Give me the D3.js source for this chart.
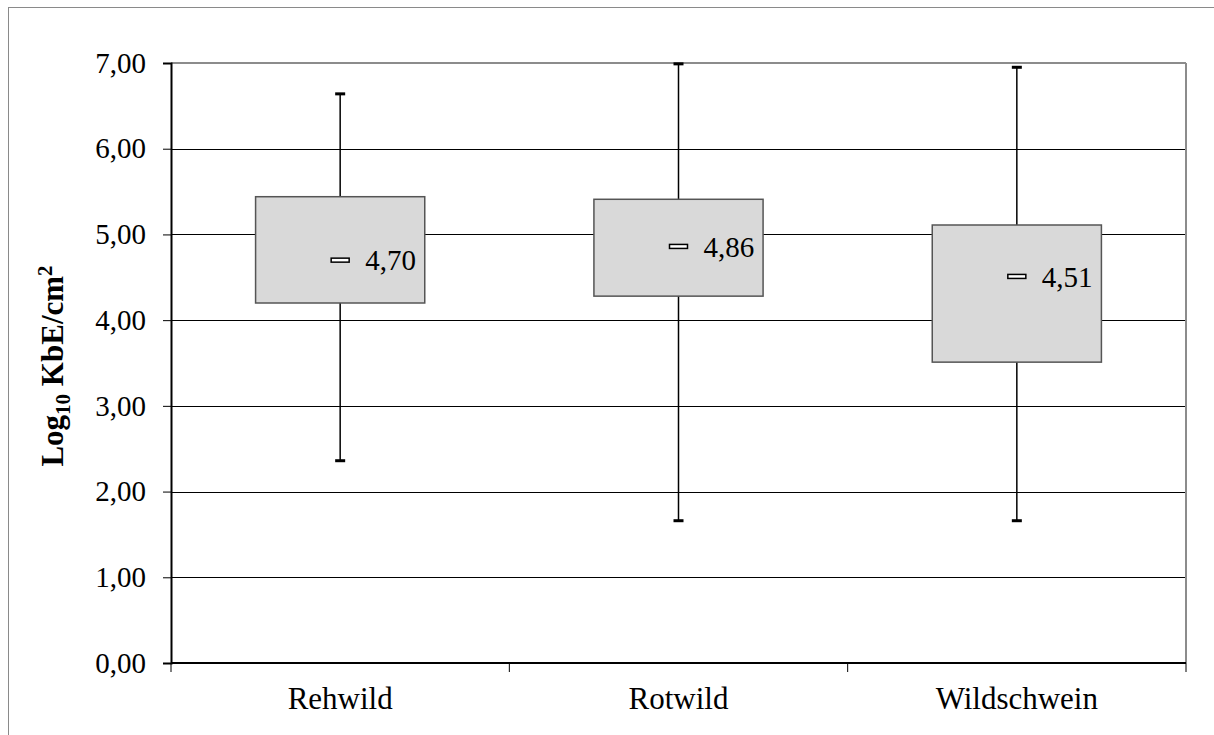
<!DOCTYPE html>
<html>
<head>
<meta charset="utf-8">
<script src="https://cdn.jsdelivr.net/npm/d3@7/dist/d3.min.js"></script>
<style>
  html, body { margin: 0; padding: 0; background: #fff; }
  svg { display: block; font-family: "Liberation Serif", "Times New Roman", serif; }
</style>
</head>
<body>
<svg id="chart" width="1214" height="735"></svg>
<script>
// Species groups
const categories = ["Rehwild", "Rotwild", "Wildschwein"];
// Box statistics (log10 KbE/cm²)
const whiskerMin = [2.36, 1.66, 1.66];
const boxLow     = [4.20, 4.28, 3.51];
const medians    = [4.70, 4.86, 4.51];
const boxHigh    = [5.44, 5.41, 5.11];
const whiskerMax = [6.64, 6.99, 6.95];
// Axis ticks
const yTicks = [0, 1, 2, 3, 4, 5, 6, 7];
const fmt = v => v.toFixed(2).replace(".", ",");

const svg = d3.select("#chart");
const margin = { left: 171, right: 28, top: 63, bottom: 72 };
const W = 1214, H = 735;
const plotW = W - margin.left - margin.right;
const plotH = H - margin.top - margin.bottom;

// outer chart frame
svg.append("rect")
  .attr("x", 8.5).attr("y", 7.5)
  .attr("width", W + 20).attr("height", H + 20)
  .attr("fill", "none").attr("stroke", "#8a8a8a").attr("stroke-width", 1);

const g = svg.append("g").attr("transform", `translate(${margin.left},${margin.top})`);

const x = d3.scaleBand().domain(categories).range([0, plotW]).padding(0);
const y = d3.scaleLinear().domain([0, 7]).range([plotH, 0]);

// horizontal gridlines
g.append("g").selectAll("line")
  .data(yTicks.filter(t => t > 0 && t < 7))
  .join("line")
  .attr("x1", 0).attr("x2", plotW)
  .attr("y1", d => Math.round(y(d)) + 0.5).attr("y2", d => Math.round(y(d)) + 0.5)
  .attr("stroke", "#000").attr("stroke-width", 1);

// plot area border (top and right, grey)
g.append("line").attr("x1", 0).attr("x2", plotW).attr("y1", y(7)).attr("y2", y(7))
  .attr("stroke", "#8c8c8c").attr("stroke-width", 2);
g.append("line").attr("x1", plotW).attr("x2", plotW).attr("y1", 0).attr("y2", plotH)
  .attr("stroke", "#8c8c8c").attr("stroke-width", 2);

// y axis
const yAxis = d3.axisLeft(y).tickValues(yTicks).tickFormat(fmt).tickSize(8).tickPadding(17);
const ya = g.append("g").call(yAxis);
ya.select(".domain").attr("stroke", "#000").attr("stroke-width", 2);
ya.selectAll(".tick line").attr("stroke", "#000");
ya.selectAll(".tick text")
  .attr("font-family", "Liberation Serif, Times New Roman, serif")
  .attr("font-size", 29).attr("fill", "#000");

// x axis with ticks at category boundaries
const xa = g.append("g").attr("transform", `translate(0,${plotH})`);
xa.append("line").attr("x1", 0).attr("x2", plotW).attr("y1", 0).attr("y2", 0)
  .attr("stroke", "#000").attr("stroke-width", 2);
const bounds = categories.map(c => x(c)).concat([plotW]);
xa.selectAll("line.tk").data(bounds).join("line").attr("class", "tk")
  .attr("x1", d => d).attr("x2", d => d).attr("y1", 0).attr("y2", 9)
  .attr("stroke", "#000").attr("stroke-width", 1);
xa.selectAll("text").data(categories).join("text")
  .attr("x", d => x(d) + x.bandwidth() / 2)
  .attr("y", 46)
  .attr("text-anchor", "middle")
  .attr("font-size", 31).attr("fill", "#000")
  .text(d => d);

// box plots
const data = categories.map((c, i) => ({
  c, lo: whiskerMin[i], q1: boxLow[i], med: medians[i], q3: boxHigh[i], hi: whiskerMax[i]
}));
const boxW = x.bandwidth() * 0.5;

const grp = g.append("g").selectAll("g").data(data).join("g")
  .attr("transform", d => `translate(${x(d.c) + x.bandwidth() / 2},0)`);

// whiskers
grp.append("line")
  .attr("x1", 0).attr("x2", 0)
  .attr("y1", d => y(d.lo)).attr("y2", d => y(d.hi))
  .attr("stroke", "#000").attr("stroke-width", 1.5);

// boxes
grp.append("rect")
  .attr("x", -boxW / 2).attr("width", boxW)
  .attr("y", d => y(d.q3)).attr("height", d => y(d.q1) - y(d.q3))
  .attr("fill", "#d9d9d9").attr("stroke", "#555").attr("stroke-width", 1.5);

// whisker caps
grp.selectAll("rect.cap").data(d => [d.lo, d.hi]).join("rect").attr("class", "cap")
  .attr("x", -5).attr("width", 10)
  .attr("y", v => y(v) - 1.5).attr("height", 3)
  .attr("fill", "#000");

// median markers
grp.append("rect")
  .attr("x", -9).attr("width", 18)
  .attr("y", d => y(d.med) - 2).attr("height", 4)
  .attr("fill", "#fff").attr("stroke", "#000").attr("stroke-width", 1.5);

// median value labels
grp.append("text")
  .attr("x", 25).attr("y", d => y(d.med))
  .attr("dy", "0.35em")
  .attr("font-size", 29).attr("fill", "#000")
  .text(d => fmt(d.med));

// y axis title
const title = svg.append("text")
  .attr("transform", "translate(63,366) rotate(-90)")
  .attr("text-anchor", "middle")
  .attr("font-weight", "bold").attr("font-size", 31).attr("fill", "#000");
title.append("tspan").text("Log");
title.append("tspan").attr("font-size", 21).attr("dy", 7).text("10");
title.append("tspan").attr("dy", -7).text(" KbE/cm");
title.append("tspan").attr("font-size", 21).attr("dy", -11).text("2");
</script>
</body>
</html>
